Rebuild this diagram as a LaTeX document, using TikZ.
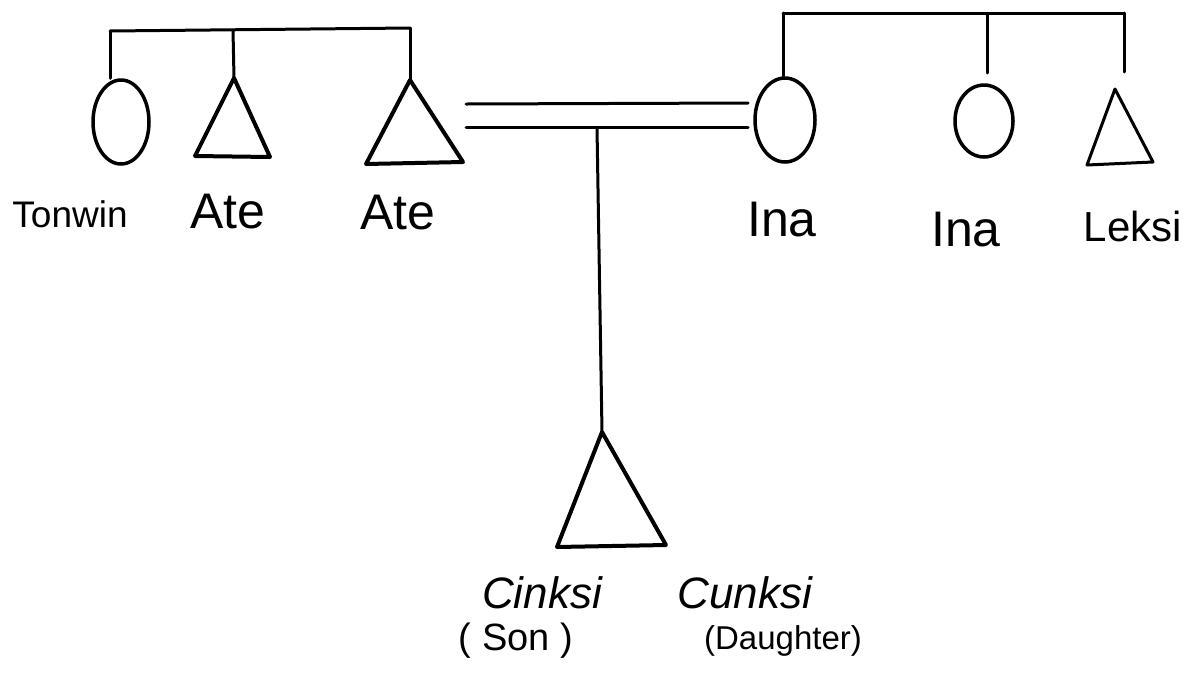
\documentclass[tikz,border=0pt]{standalone}
\usepackage{fontspec}
\setmainfont{Liberation Sans}
\usetikzlibrary{shapes.geometric}
\newcommand\lblsize[1]{\fontsize{#1}{#1}\selectfont}
\begin{document}
\begin{tikzpicture}[x=1pt,y=-1pt,line join=round,line cap=round,
  kinline/.style={draw,line width=3pt},
  female/.style={ellipse,draw,inner sep=0pt,line width=3.5pt},
  male/.style={draw,line width=4pt},
  lbl/.style={inner sep=0pt,anchor=center}]
\useasboundingbox (0,0) rectangle (1183,689);

% ---- left sibling group ----
\coordinate (lbarL) at (110,31);
\coordinate (lbarM) at (233,30);
\coordinate (lbarR) at (410,28);
\node[female,minimum width=56pt,minimum height=84pt] (tonwin) at (121,122) {};
\coordinate (ate1apex) at (234,78);
\coordinate (ate1bl) at (195,156);
\coordinate (ate1br) at (270,157);
\coordinate (ate2apex) at (410,80);
\coordinate (ate2bl) at (366,164);
\coordinate (ate2br) at (463,162);
\draw[male] (ate1apex) -- (ate1bl) -- (ate1br) -- cycle;
\draw[male] (ate2apex) -- (ate2bl) -- (ate2br) -- cycle;
\draw[kinline] (lbarL) -- (lbarR);
\draw[kinline] (lbarL) -- (lbarL |- tonwin.north);
\draw[kinline] (lbarM) -- (ate1apex);
\draw[kinline] (lbarR) -- (ate2apex);

% ---- right sibling group ----
\coordinate (rbarL) at (783,13);
\coordinate (rbarM) at (987,14);
\coordinate (rbarR) at (1124,13);
\node[female,minimum width=60pt,minimum height=84pt] (ina1) at (785,120) {};
\node[female,minimum width=58pt,minimum height=72pt] (ina2) at (984,121) {};
\coordinate (leksiapex) at (1115,89);
\coordinate (leksibl) at (1087,165);
\coordinate (leksibr) at (1153,162);
\coordinate (ina2top) at (987,73);
\coordinate (leksitop) at (1124,72);
\draw[male,line width=3pt] (leksiapex) -- (leksibl) -- (leksibr) -- cycle;
\draw[kinline] (rbarL) -- (rbarR);
\draw[kinline] (rbarL) -- (rbarL |- ina1.north);
\draw[kinline] (rbarM) -- (ina2top);
\draw[kinline] (rbarR) -- (leksitop);

% ---- marriage ----
\coordinate (m1L) at (466,104);
\coordinate (m1R) at (748,103);
\coordinate (m2L) at (466,127);
\coordinate (m2R) at (748,127);
\coordinate (mdrop) at (597,128);
\draw[kinline] (m1L) -- (m1R);
\draw[kinline] (m2L) -- (m2R);

% ---- child ----
\coordinate (childapex) at (602,432);
\coordinate (childbl) at (557,547);
\coordinate (childbr) at (666,545);
\draw[male] (childapex) -- (childbl) -- (childbr) -- cycle;
\draw[kinline] (mdrop) -- (childapex);

% ---- labels ----
\node[lbl] (ltonwin) at (70,214) {\lblsize{37}Tonwin};
\node[lbl] (late1) at (228,212) {\lblsize{50}Ate};
\node[lbl] (late2) at (398,213) {\lblsize{50}Ate};
\node[lbl] (lina1) at (782,220) {\lblsize{50}Ina};
\node[lbl] (lina2) at (966,230) {\lblsize{50}Ina};
\node[lbl] (lleksi) at (1133,226) {\lblsize{42}Leksi};
\node[lbl] (lcinksi) at (542,593) {\lblsize{44}\itshape Cinksi};
\node[lbl] (lson) at (516,641) {\lblsize{38}( Son )};
\node[lbl] (lcunksi) at (745,593) {\lblsize{44}\itshape Cunksi};
\node[lbl] (ldaughter) at (783,641) {\lblsize{33}(Daughter)};
\end{tikzpicture}
\end{document}
